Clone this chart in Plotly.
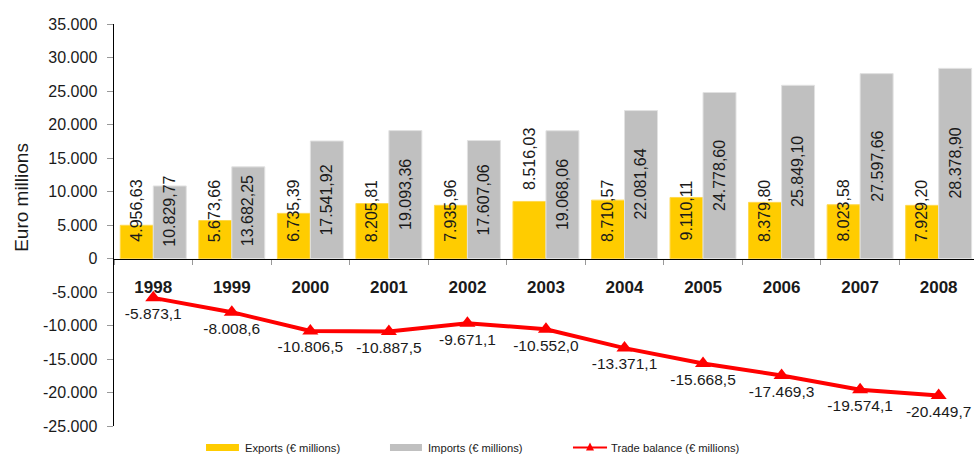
import plotly.graph_objects as go

years = ["1998", "1999", "2000", "2001", "2002", "2003", "2004", "2005", "2006", "2007", "2008"]
exports = [4956.63, 5673.66, 6735.39, 8205.81, 7935.96, 8516.03, 8710.57, 9110.11, 8379.80, 8023.58, 7929.20]
imports = [10829.77, 13682.25, 17541.92, 19093.36, 17607.06, 19068.06, 22081.64, 24778.60, 25849.10, 27597.66, 28378.90]
balance = [-5873.1, -8008.6, -10806.5, -10887.5, -9671.1, -10552.0, -13371.1, -15668.5, -17469.3, -19574.1, -20449.7]

y_tickvals = [35000, 30000, 25000, 20000, 15000, 10000, 5000, 0, -5000, -10000, -15000, -20000, -25000]
y_ticktext = ["35.000", "30.000", "25.000", "20.000", "15.000", "10.000", "5.000", "0",
              "-5.000", "-10.000", "-15.000", "-20.000", "-25.000"]

series_names = ["Exports (€ millions)", "Imports (€ millions)", "Trade balance (€ millions)"]

# label placement style for export bars (2003 label sits above its bar)
export_label_mode = ["auto"] * 5 + ["outside"] + ["auto"] * 5

Y_MIN, Y_MAX = -25000, 35000
FONT = "Liberation Sans, Arial, sans-serif"
TXT = "#1a1a1a"
BARGAP = 0.16
C_EXP, C_IMP, C_BAL = "#FFCC00", "#C0C0C0", "#FF0000"


def eu(v, d):
    s = f"{v:,.{d}f}"
    return s.replace(",", "X").replace(".", ",").replace("X", ".")


fig = go.Figure()
fig.add_trace(go.Bar(x=years, y=exports, name=series_names[0], showlegend=False,
                     marker=dict(color=C_EXP, line=dict(color="#FFD84D", width=1))))
fig.add_trace(go.Bar(x=years, y=imports, name=series_names[1], showlegend=False,
                     marker=dict(color=C_IMP, line=dict(color="#E2E2E2", width=1))))
fig.add_trace(go.Scatter(x=years, y=balance, name=series_names[2],
                         mode="lines+markers+text", showlegend=False,
                         line=dict(color=C_BAL, width=4),
                         marker=dict(symbol="triangle-up", size=14, color=C_BAL),
                         text=[eu(v, 1) for v in balance], textposition="bottom center",
                         textfont=dict(family=FONT, size=15.5, color=TXT)))

off = (1 - BARGAP) / 4
MIN_CENTER = 7100
annotations = []
for i, (e, m) in enumerate(zip(exports, imports)):
    if export_label_mode[i] == "outside":
        annotations.append(dict(x=i - off, y=e, xref="x", yref="y", text=eu(e, 2), textangle=-90,
                                showarrow=False, yanchor="bottom", yshift=10,
                                font=dict(family=FONT, size=16, color=TXT)))
    else:
        annotations.append(dict(x=i - off, y=max(e / 2, MIN_CENTER), xref="x", yref="y", text=eu(e, 2),
                                textangle=-90, showarrow=False, yanchor="middle",
                                font=dict(family=FONT, size=16, color=TXT)))
    annotations.append(dict(x=i + off, y=max(m / 2, MIN_CENTER), xref="x", yref="y", text=eu(m, 2),
                            textangle=-90, showarrow=False, yanchor="middle",
                            font=dict(family=FONT, size=16, color=TXT)))

annotations.append(dict(x=-0.107, y=0.57, xref="paper", yref="paper", text="Euro millions",
                        textangle=-90, showarrow=False, xanchor="center", yanchor="middle",
                        font=dict(family=FONT, size=19, color=TXT)))

# hand-drawn legend (swatch positions in paper units)
LEG_Y = -0.0535
leg_items = [
    (series_names[0], C_EXP, "box", 0.1070, 0.1453, 0.1500),
    (series_names[1], C_IMP, "box", 0.3209, 0.3581, 0.3628),
    (series_names[2], C_BAL, "line", 0.5337, 0.5733, 0.5756),
]
shapes = []
for name, col, kind, x0, x1, xt in leg_items:
    if kind == "box":
        shapes.append(dict(type="rect", xref="paper", yref="paper", x0=x0, x1=x1,
                           y0=LEG_Y - 0.0087, y1=LEG_Y + 0.0087, fillcolor=col, line=dict(width=0)))
    else:
        shapes.append(dict(type="line", xref="paper", yref="paper", x0=x0, x1=x1,
                           y0=LEG_Y, y1=LEG_Y, line=dict(color=col, width=2)))
        shapes.append(dict(type="path", xref="paper", yref="paper", xsizemode="pixel", ysizemode="pixel",
                           xanchor=(x0 + x1) / 2, yanchor=LEG_Y, path="M-4,-3 L4,-3 L0,5 Z",
                           fillcolor=col, line=dict(width=0)))
    annotations.append(dict(x=xt, y=LEG_Y, xref="paper", yref="paper", text=name, showarrow=False,
                            xanchor="left", yanchor="middle",
                            font=dict(family=FONT, size=11.2, color=TXT)))

fig.update_layout(
    width=974, height=455,
    margin=dict(l=114, r=0, t=24, b=29),
    paper_bgcolor="white", plot_bgcolor="white",
    barmode="group", bargap=BARGAP, bargroupgap=0,
    separators=",.",
    font=dict(family=FONT, size=16, color=TXT),
    annotations=annotations,
    shapes=shapes,
    showlegend=False,
    hovermode=False,
    xaxis=dict(type="category", range=[-0.5, 10.45], anchor="free",
               position=(0 - Y_MIN) / (Y_MAX - Y_MIN),
               showline=True, linecolor="black", linewidth=1.5,
               ticks="outside", tickson="boundaries", ticklen=5, tickcolor="#999999",
               ticklabelstandoff=13, automargin=False,
               tickfont=dict(family=FONT, size=17, color=TXT, weight="bold"),
               showgrid=False, zeroline=False),
    yaxis=dict(range=[Y_MIN, Y_MAX], tickvals=y_tickvals, ticktext=y_ticktext,
               showline=True, linecolor="black", linewidth=1.5,
               ticks="outside", ticklen=6, tickcolor="#999999", ticklabelstandoff=6,
               automargin=False,
               tickfont=dict(family=FONT, size=16, color=TXT),
               showgrid=False, zeroline=False),
)

fig.write_html("out.html", config={"displayModeBar": False, "staticPlot": True},
               post_script="document.body.style.margin='0';document.body.style.overflow='hidden';")
